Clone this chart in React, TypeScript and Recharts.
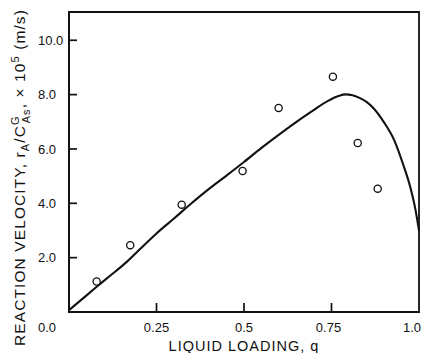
import { ComposedChart, Line, Scatter, XAxis, YAxis, ReferenceArea } from 'recharts';

const FONT = '"Liberation Sans", Arial, sans-serif';
const INK = '#111';

// measured points (open circles)
const pointX = [0.079, 0.175, 0.322, 0.496, 0.599, 0.754, 0.825, 0.882];
const pointY = [1.12, 2.46, 3.95, 5.19, 7.51, 8.66, 6.22, 4.54];

// fitted curve
const curveX = [0, 0.04, 0.08, 0.12, 0.16, 0.2, 0.25, 0.3, 0.35, 0.4, 0.45, 0.5, 0.55, 0.6, 0.65, 0.7, 0.74, 0.77, 0.79, 0.81, 0.83, 0.85, 0.87, 0.9, 0.93, 0.955, 0.975, 0.99, 1.0];
const curveY = [0.07, 0.5, 0.94, 1.36, 1.79, 2.28, 2.89, 3.44, 4.0, 4.53, 5.02, 5.52, 6.04, 6.53, 7.0, 7.44, 7.77, 7.95, 8.01, 7.98, 7.88, 7.73, 7.5, 6.98, 6.3, 5.42, 4.6, 3.76, 3.0];

const xTicks = [0, 0.25, 0.5, 0.75, 1];
const xTickLabels = ['0.0', '0.25', '0.5', '0.75', '1.0'];
const yTicks = [2, 4, 6, 8, 10];
const yTickLabels = ['2.0', '4.0', '6.0', '8.0', '10.0'];

const Y_MAX = 11.04;

const points = pointX.map((x, i) => ({ x, y: pointY[i] }));
const curve = curveX.map((x, i) => ({ x, y: curveY[i] }));

// tickMargin 11, tickSize 0: axis line sits 11px above the tick's y
function XTick({ x, y, payload }: any) {
  const i = xTicks.indexOf(payload.value);
  const shift = payload.value === 0 ? -22 : payload.value === 1 ? -7 : payload.value === 0.75 ? -3 : 0;
  const inner = payload.value > 0 && payload.value < 1;
  return (
    <g>
      {inner && <path d={`M${x},${y - 11}V${y - 20}`} stroke={INK} strokeWidth={1.7} fill="none" />}
      <text x={x + shift} y={y} dy="0.71em" textAnchor="middle" fontSize={13} fontFamily={FONT} fill={INK}>
        {xTickLabels[i]}
      </text>
    </g>
  );
}

// tickMargin 9, tickSize 0: axis line sits 9px right of the tick's x
function YTick({ x, y, payload }: any) {
  const i = yTicks.indexOf(payload.value);
  return (
    <g>
      <path d={`M${x + 9},${y}H${x + 17}`} stroke={INK} strokeWidth={1.7} fill="none" />
      <text x={x - 22} y={y} dy="0.355em" textAnchor="start" fontSize={13} fontFamily={FONT} fill={INK}>
        {yTickLabels[i]}
      </text>
    </g>
  );
}

const Ring = ({ cx, cy }: any) => <circle cx={cx} cy={cy} r={3.6} fill="#fff" stroke={INK} strokeWidth={1.3} />;

export default function App() {
  return (
    <div style={{ position: 'absolute', left: 0, top: 0, width: 425, height: 353, background: '#fff' }}>
      <ComposedChart width={425} height={353} margin={{ top: 12, right: 6, left: 0, bottom: 0 }}>
        <XAxis
          type="number"
          dataKey="x"
          domain={[0, 1]}
          ticks={xTicks}
          height={41}
          tickSize={0}
          tickMargin={11}
          tick={<XTick />}
          tickLine={false}
          axisLine={{ stroke: INK, strokeWidth: 1.8 }}
          label={{ value: 'LIQUID  LOADING,  q', position: 'insideBottom', offset: 2, fontSize: 14.5, fontFamily: FONT, fill: INK, letterSpacing: 1 }}
        />
        <YAxis
          type="number"
          dataKey="y"
          domain={[0, Y_MAX]}
          ticks={yTicks}
          width={69}
          tickSize={0}
          tickMargin={9}
          tick={<YTick />}
          tickLine={false}
          axisLine={{ stroke: INK, strokeWidth: 1.8 }}
        />
        <ReferenceArea x1={0} x2={1} y1={0} y2={Y_MAX} fill="none" stroke={INK} strokeWidth={1.8} ifOverflow="visible" />
        <Line data={curve} dataKey="y" type="monotone" dot={false} stroke={INK} strokeWidth={2.1} isAnimationActive={false} />
        <Scatter data={points} dataKey="y" shape={<Ring />} isAnimationActive={false} />
      </ComposedChart>
      <svg width={425} height={353} style={{ position: 'absolute', left: 0, top: 0, pointerEvents: 'none' }}>
        <text transform="translate(25,346) rotate(-90)" fontSize={15.5} fontFamily={FONT} fill={INK} letterSpacing={1.1}>
          REACTION VELOCITY, r
          <tspan dy={4} fontSize={11}>A</tspan>
          <tspan dy={-4}>/C</tspan>
          <tspan dy={-6} fontSize={11}>G</tspan>
          <tspan dx={-8} dy={11} fontSize={11}>As</tspan>
          <tspan dy={-5}>, × 10</tspan>
          <tspan dy={-6} fontSize={11}>5</tspan>
          <tspan dy={6}> (m/s)</tspan>
        </text>
      </svg>
    </div>
  );
}
